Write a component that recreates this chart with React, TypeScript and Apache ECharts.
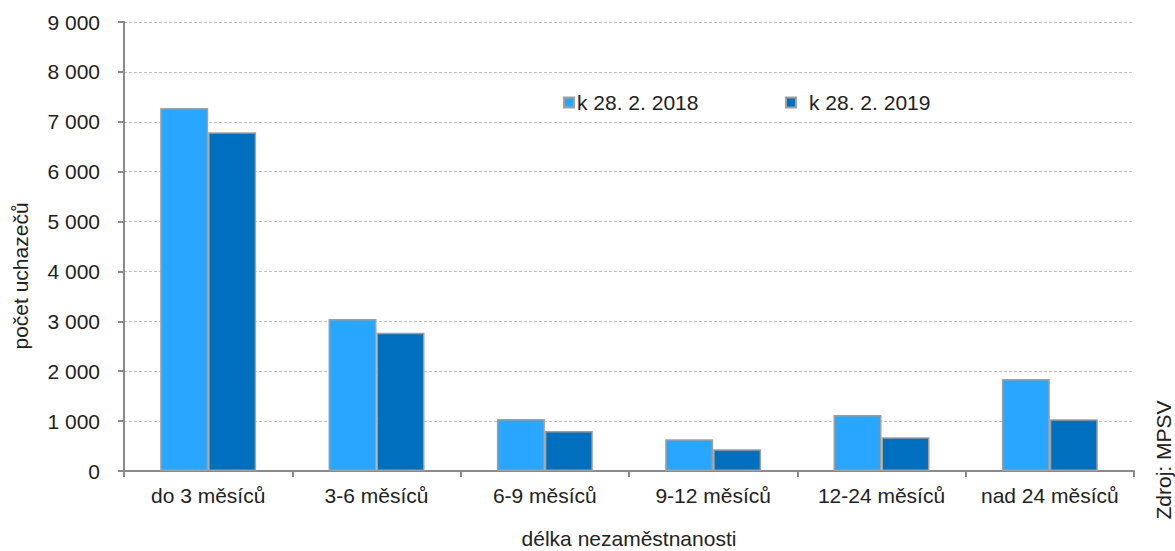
import React, { useEffect, useRef } from "react";
import * as echarts from "echarts";

const categories = ["do 3 měsíců", "3-6 měsíců", "6-9 měsíců", "9-12 měsíců", "12-24 měsíců", "nad 24 měsíců"];
const series2018 = [7275, 3045, 1040, 635, 1120, 1845];
const series2019 = [6790, 2770, 800, 435, 675, 1035];
const seriesNames = ["k 28. 2. 2018", "k 28. 2. 2019"];
const yTicks = { min: 0, max: 9000, interval: 1000 };
const yAxisTitle = "počet uchazečů";
const xAxisTitle = "délka nezaměstnanosti";
const sourceText = "Zdroj: MPSV";

const FONT = "'Liberation Sans', Arial, sans-serif";
const FS = 21;

export default function App() {
  const ref = useRef<HTMLDivElement>(null);
  useEffect(() => {
    if (!ref.current) return;
    const chart = echarts.init(ref.current, null, { renderer: "svg" });
    chart.setOption({
      animation: false,
      backgroundColor: "#ffffff",
      textStyle: { fontFamily: FONT },
      grid: { left: 124, right: 41, top: 22, bottom: 80, containLabel: false, outerBoundsMode: "none" },
      legend: [
        {
          data: [seriesNames[0]],
          left: 558,
          top: 87,
          itemWidth: 10,
          itemHeight: 10,
          itemGap: 0,
          icon: "rect",
          textStyle: { fontSize: FS, color: "#222", fontFamily: FONT, padding: [0, 0, 0, -2] },
        },
        {
          data: [seriesNames[1]],
          left: 780,
          top: 87,
          itemWidth: 10,
          itemHeight: 10,
          itemGap: 0,
          icon: "rect",
          textStyle: { fontSize: FS, color: "#222", fontFamily: FONT, padding: [0, 0, 0, 8] },
        },
      ],
      xAxis: {
        type: "category",
        data: categories,
        name: xAxisTitle,
        nameLocation: "middle",
        nameGap: 57,
        nameTextStyle: { fontSize: FS, color: "#222", fontFamily: FONT },
        axisLine: { lineStyle: { color: "#8a8a8a", width: 2 } },
        axisTick: { show: true, length: 6, lineStyle: { color: "#8a8a8a", width: 2 } },
        axisLabel: { fontSize: FS, color: "#222", margin: 14, fontFamily: FONT, interval: 0 },
      },
      yAxis: {
        type: "value",
        min: yTicks.min,
        max: yTicks.max,
        interval: yTicks.interval,
        axisLine: { show: true, lineStyle: { color: "#8a8a8a", width: 2 } },
        axisTick: { show: true, length: 6, lineStyle: { color: "#8a8a8a", width: 2 } },
        axisLabel: {
          fontSize: FS,
          color: "#222",
          margin: 24,
          fontFamily: FONT,
          formatter: (v: number) => String(v).replace(/\B(?=(\d{3})+(?!\d))/g, " "),
        },
        splitLine: { show: true, lineStyle: { color: "#c4c4c4", type: [3, 2], width: 1 } },
      },
      series: [
        {
          name: seriesNames[0],
          type: "bar",
          data: series2018,
          barGap: "0%",
          barCategoryGap: "43%",
          itemStyle: { color: "#29a6ff", borderColor: "#a0a0a0", borderWidth: 1.5 },
        },
        {
          name: seriesNames[1],
          type: "bar",
          data: series2019,
          itemStyle: { color: "#006fbd", borderColor: "#a0a0a0", borderWidth: 1.5 },
        },
      ],
      graphic: [
        {
          type: "text",
          x: 20,
          y: 276,
          rotation: Math.PI / 2,
          style: {
            text: yAxisTitle,
            fontSize: FS,
            fontFamily: FONT,
            fill: "#222",
            align: "center",
            verticalAlign: "middle",
          },
        },
        {
          type: "text",
          x: 1163,
          y: 460,
          rotation: Math.PI / 2,
          style: {
            text: sourceText,
            fontSize: FS,
            fontFamily: FONT,
            fill: "#222",
            align: "center",
            verticalAlign: "middle",
          },
        },
      ],
    });
    return () => chart.dispose();
  }, []);
  return (
    <div
      ref={ref}
      style={{ position: "absolute", left: 0, top: 0, width: 1175, height: 551 }}
    />
  );
}
